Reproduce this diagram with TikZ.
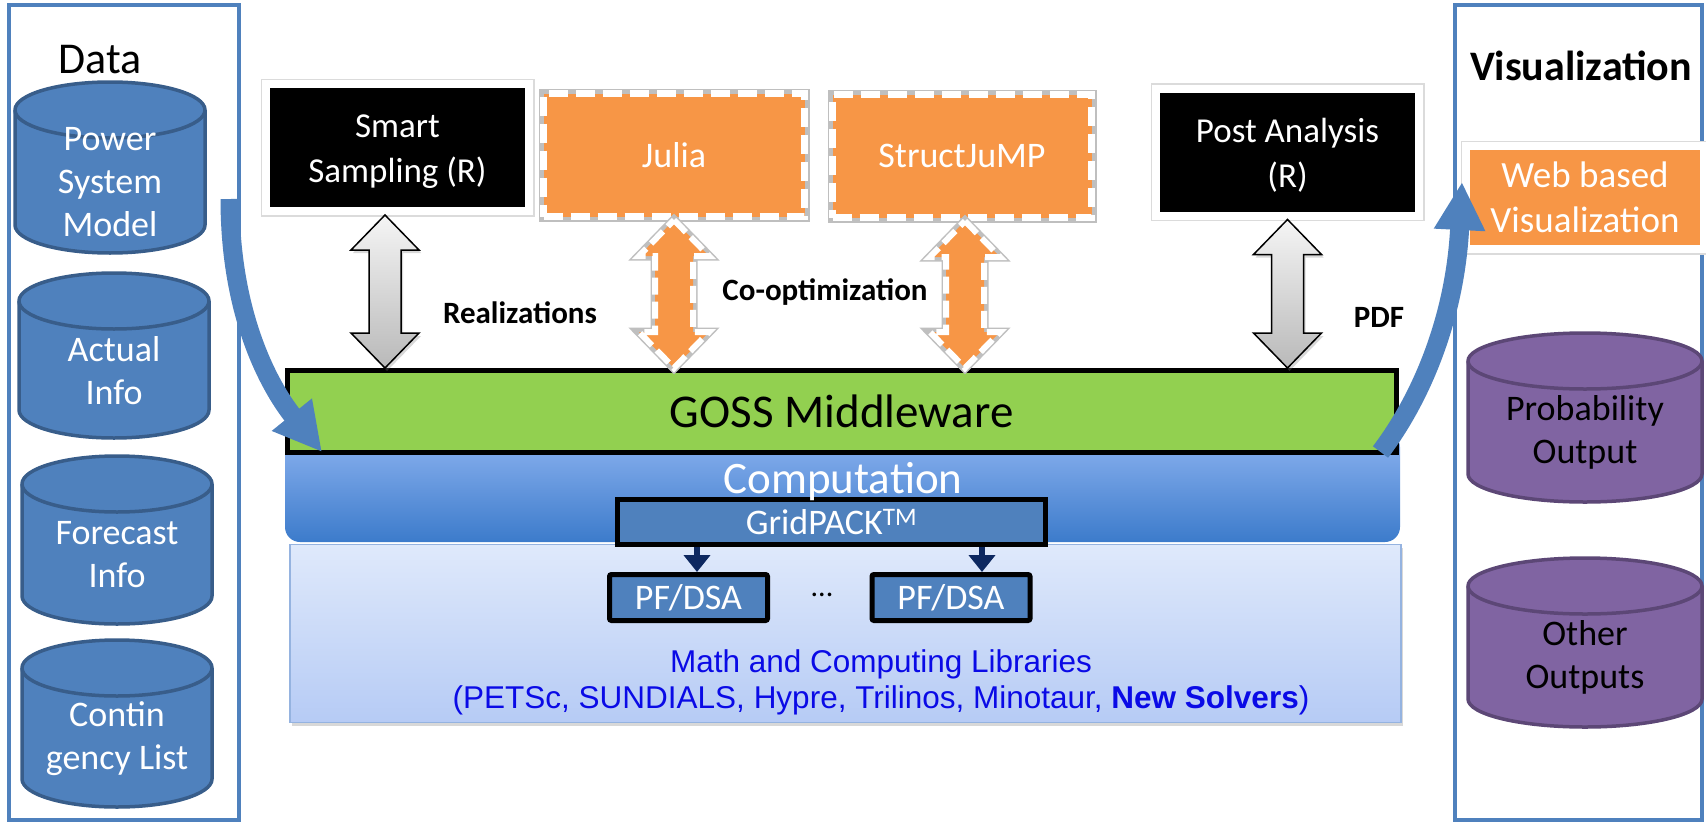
\documentclass[tikz,border=0pt]{standalone}
\usepackage{fontspec}
\setmainfont{Carlito}
\newfontfamily\arialfont{Liberation Sans}
\usetikzlibrary{arrows.meta,calc,shadows}

\definecolor{panelblue}{HTML}{4F81BD}
\definecolor{cylline}{HTML}{385D8A}
\definecolor{cylpurple}{HTML}{8064A2}
\definecolor{purpleline}{HTML}{5C4776}
\definecolor{orangefill}{HTML}{F79646}
\definecolor{gossgreen}{HTML}{92D050}
\definecolor{comptop}{HTML}{8DB3F0}
\definecolor{compbottom}{HTML}{3C7BCB}
\definecolor{libtop}{HTML}{DFE9FB}
\definecolor{libbottom}{HTML}{B6CBF5}
\definecolor{libline}{HTML}{95B3E0}
\definecolor{navy}{HTML}{0D2860}
\definecolor{libblue}{HTML}{0A0AE6}

\tikzset{
  panel/.style={draw=panelblue,line width=4pt},
  paneltitle/.style={anchor=base,inner sep=0pt,font=\fontsize{44}{52}\selectfont},
  datacyl/.style={fill=panelblue,draw=cylline,line width=3.5pt},
  outcyl/.style={fill=cylpurple,draw=purpleline,line width=3.5pt},
  datatext/.style={align=center,inner sep=0pt,text=white,font=\fontsize{36}{43}\selectfont},
  outtext/.style={align=center,inner sep=0pt,text=black,font=\fontsize{36}{43}\selectfont},
  softshadow/.style={drop shadow={opacity=0.3,shadow xshift=2pt,shadow yshift=-3pt}},
  greyrim/.style={preaction={draw=gray!28,line width=#1,solid}},
  toolbox/.style={fill=black,draw=white,line width=8pt,text=white,align=center,inner sep=0pt,
    minimum width=263pt,minimum height=127pt,font=\fontsize{35}{45}\selectfont,softshadow,greyrim=11pt},
  juliabox/.style={fill=orangefill,draw=white,line width=7pt,dash pattern=on 19pt off 8pt,
    text=white,inner sep=0pt,minimum width=261pt,minimum height=123pt,
    font=\fontsize{36}{45}\selectfont,softshadow,preaction={draw=gray!50,line width=10pt,solid}},
  webbox/.style={fill=orangefill,draw=white,line width=8pt,text=white,align=center,inner sep=0pt,
    minimum width=238pt,minimum height=103pt,font=\fontsize{37}{45}\selectfont,softshadow,greyrim=11pt},
  greyarrow/.style={top color=gray!8,bottom color=gray!55,draw=black,line width=1.5pt,softshadow},
  orangearrow/.style={fill=orangefill,draw=white,line width=6pt,dash pattern=on 17pt off 7pt,
    softshadow,preaction={draw=gray!50,line width=9pt,solid}},
  lbl/.style={anchor=base,inner sep=0pt,font=\bfseries\fontsize{31}{37}\selectfont},
  compbox/.style={minimum width=1115pt,minimum height=110pt,rounded corners=15pt,
    top color=comptop,bottom color=compbottom,inner sep=0pt},
  libbox/.style={minimum width=1111pt,minimum height=178pt,top color=libtop,bottom color=libbottom,
    draw=libline,line width=1.5pt,inner sep=0pt,softshadow},
  gossbox/.style={fill=gossgreen,draw=black,line width=5pt,minimum width=1108.5pt,minimum height=82pt,
    inner sep=0pt,font=\fontsize{47}{56}\selectfont},
  gridbox/.style={fill=panelblue,draw=black,line width=5pt,minimum width=428pt,minimum height=45pt,
    inner sep=0pt,text=white,font=\fontsize{36}{43}\selectfont},
  pfbox/.style={fill=panelblue,draw=black,line width=5pt,rounded corners=2pt,minimum width=158pt,
    minimum height=46pt,inner sep=0pt,text=white,font=\fontsize{36}{43}\selectfont},
  comptitle/.style={anchor=base,inner sep=0pt,text=white,font=\fontsize{45}{54}\selectfont},
  libtext/.style={align=center,inner sep=0pt,text=libblue,font=\arialfont\fontsize{31.5}{36}\selectfont},
  subarrow/.style={draw=navy,line width=6pt,-{Triangle[length=17pt,width=26pt]}},
  flowarrow/.style={draw=panelblue,line width=19pt,-{Triangle[length=48pt,width=48pt]}}
}

\newcommand{\dbcyl}[8]{%
  \draw[#6] (#2-#5,#3+28) -- (#2-#5,#4-28)
    arc[start angle=180,end angle=0,x radius=#5,y radius=28]
    -- (#2+#5,#3+28)
    arc[start angle=0,end angle=-180,x radius=#5,y radius=28] -- cycle;
  \draw[#6,fill=none] (#2-#5,#3+28) arc[start angle=180,end angle=0,x radius=#5,y radius=28];
  \node[#7] (#1) at (#2,{(#3+#4)/2+15}) {#8};
}

\newcommand{\blockarrow}[6][]{%
  \path[#1] let \p1=#2, \p2=#3 in
    (\x1,\y1) -- (\x1+#4,\y1-#6) -- (\x1+#5,\y1-#6) -- (\x1+#5,\y2+#6)
    -- (\x1+#4,\y2+#6) -- (\x1,\y2) -- (\x1-#4,\y2+#6) -- (\x1-#5,\y2+#6)
    -- (\x1-#5,\y1-#6) -- (\x1-#4,\y1-#6) -- cycle;
}

\begin{document}
\begin{tikzpicture}[x=1pt,y=-1pt]
  \useasboundingbox (0,0) rectangle (1706,822);
  \fill[white] (0,0) rectangle (1706,822);

  \draw[panel] (9,5) rectangle (239,820);
  \draw[panel] (1455,5) rectangle (1702,820);
  \node[paneltitle] (datatitle) at (100,73) {Data};
  \node[paneltitle,font=\bfseries\fontsize{42}{50}\selectfont] (vistitle) at (1581,80) {Visualization};

  \dbcyl{psm}{110}{82}{253}{95}{datacyl}{datatext}{Power\\System\\Model}
  \dbcyl{actual}{114}{273}{438}{95}{datacyl}{datatext}{Actual\\Info}
  \dbcyl{forecast}{117}{456}{624}{95}{datacyl}{datatext}{Forecast\\Info}
  \dbcyl{contin}{117}{640}{807}{95}{datacyl}{datatext}{Contin\\gency List}
  \dbcyl{probout}{1585}{333}{502}{117}{outcyl}{outtext}{Probability\\Output}
  \dbcyl{otherout}{1585}{558}{727}{117}{outcyl}{outtext}{Other\\Outputs}

  \node[toolbox] (smart) at (397.5,147.5) {\rule{0pt}{32pt}Smart\\Sampling (R)};
  \node[juliabox] (julia) at (674,155) {Julia};
  \node[juliabox,minimum width=259pt] (sjump) at (962,156) {StructJuMP};
  \node[toolbox] (post) at (1287.5,152) {\rule{0pt}{30pt}Post Analysis\\(R)};
  \node[webbox] (web) at (1585,197.5) {Web based\\Visualization};

  \node[compbox] (comp) at (842.5,487) {};
  \node[libbox] (libs) at (845.5,633.5) {};
  \node[gossbox] (goss) at (841.75,411.5) {GOSS Middleware};
  \node[gridbox] (grid) at (831.5,522) {GridPACK\textsuperscript{TM}};
  \node[comptitle] (comptext) at (843,493) {Computation};
  \node[pfbox] (pf1) at (688.5,597.5) {PF/DSA};
  \node[pfbox] (pf2) at (951,597.5) {PF/DSA};
  \node[anchor=base,inner sep=0pt,font=\fontsize{30}{36}\selectfont] (dots) at (822,596) {...};
  \node[libtext] (libnames) at (881,682) {Math and Computing Libraries\\(PETSc, SUNDIALS, Hypre, Trilinos, Minotaur, \textbf{New Solvers})};

  \draw[subarrow] ($(pf1.north |- grid.south)+(8.5,0)$) -- ($(pf1.north)+(8.5,0)$);
  \draw[subarrow] ($(pf2.north |- grid.south)+(31,0)$) -- ($(pf2.north)+(31,0)$);

  \blockarrow[greyarrow]{([xshift=-12.5pt]smart.south)}{(goss.north)}{34pt}{16pt}{35pt}
  \blockarrow[orangearrow]{(julia.south)}{(goss.north)}{35pt}{19pt}{36pt}
  \blockarrow[orangearrow]{([xshift=3pt]sjump.south)}{(goss.north)}{35pt}{19pt}{36pt}
  \blockarrow[greyarrow]{(post.south)}{(goss.north)}{34pt}{16pt}{35pt}

  \node[lbl] (realiz) at (520,323) {Realizations};
  \node[lbl] (coopt) at (825,300) {Co-optimization};
  \node[lbl] (pdf) at (1379,327) {PDF};

  \coordinate (datafrom) at (230,199);
  \draw[flowarrow] (datafrom) .. controls (230,330) and (280,400) .. ([xshift=37pt,yshift=3pt]goss.south west);
  \draw[flowarrow] ([xshift=-18pt,yshift=3pt]goss.south east) .. controls (1420,400) and (1455,320) .. ([yshift=15.5pt]web.west);
\end{tikzpicture}
\end{document}
